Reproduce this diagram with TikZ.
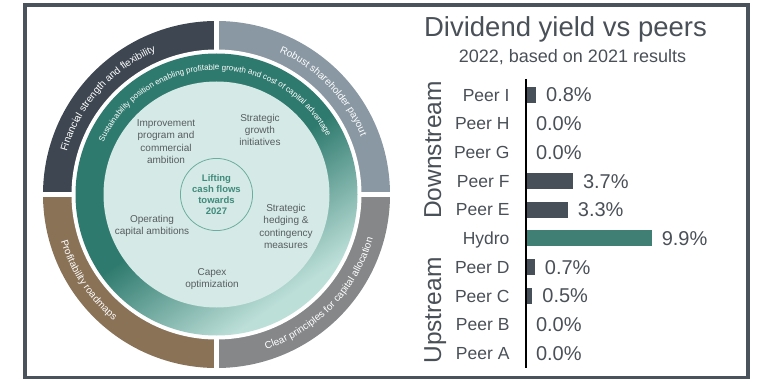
\documentclass[tikz,border=0pt]{standalone}
\usepackage{fontspec}
\setmainfont{Liberation Sans}
\usetikzlibrary{decorations.text}

\definecolor{framecol}{HTML}{4A525B}
\definecolor{quarterdark}{HTML}{3E4751}
\definecolor{quarterslate}{HTML}{8A98A3}
\definecolor{quarterbrown}{HTML}{8A7257}
\definecolor{quartergray}{HTML}{858789}
\definecolor{ringdark}{HTML}{2F7A6E}
\definecolor{ringlight}{HTML}{BCDFD8}
\definecolor{discfill}{HTML}{D5EAE6}
\definecolor{hubline}{HTML}{6AAE9F}
\definecolor{hubtext}{HTML}{3F8A7C}
\definecolor{innertext}{HTML}{575C60}
\definecolor{charttext}{HTML}{4A5058}
\definecolor{bardark}{HTML}{474F59}
\definecolor{barhydro}{HTML}{407F74}

\pgfdeclareverticalshading{ringshade}{100bp}{color(0bp)=(ringlight); color(28bp)=(ringlight); color(50bp)=(ringdark); color(100bp)=(ringdark)}

\begin{document}
\begin{tikzpicture}[x=1pt,y=1pt,
  outertext/.style={decorate,decoration={text along path,text align=center,
                    text color=white,text={|\fontsize{10}{12}\selectfont|#1}}},
  ringtext/.style={decorate,decoration={text along path,text align=center,
                   text color=white,text={|\fontsize{8}{10}\selectfont|#1}}},
  inner/.style={align=center,text=innertext,font=\fontsize{10}{12.3}\selectfont},
  hub/.style={circle,draw=hubline,line width=0.8pt,fill=discfill,minimum size=71pt,
              align=center,text=hubtext,font=\bfseries\fontsize{9.5}{11}\selectfont},
  peer/.style={anchor=base east,text=charttext,font=\fontsize{17.5}{20}\selectfont},
  pct/.style={anchor=base west,text=charttext,font=\fontsize{20}{24}\selectfont},
  group/.style={rotate=90,anchor=base,text=charttext,font=\fontsize{24.5}{28}\selectfont}
]
\useasboundingbox (0,0) rectangle (761,378);
\draw[framecol,line width=4pt] (25,0) rectangle (747.5,373);

% wheel
\coordinate (ctr) at (216.5,183.5);
\fill[quarterdark]  (ctr) ++(90:173.5) arc[start angle=90,end angle=180,radius=173.5] -- (ctr) -- cycle;
\fill[quarterslate] (ctr) ++(0:173.5) arc[start angle=0,end angle=90,radius=173.5] -- (ctr) -- cycle;
\fill[quarterbrown] (ctr) ++(180:173.5) arc[start angle=180,end angle=270,radius=173.5] -- (ctr) -- cycle;
\fill[quartergray]  (ctr) ++(270:173.5) arc[start angle=270,end angle=360,radius=173.5] -- (ctr) -- cycle;
\draw[white,line width=5pt] ([xshift=-180pt]ctr) -- ([xshift=180pt]ctr);
\draw[white,line width=5pt] ([yshift=-180pt]ctr) -- ([yshift=180pt]ctr);
\fill[white] (ctr) circle[radius=145];
\shade[shading=ringshade,shading angle=35] (ctr) circle[radius=141];
\fill[discfill] (ctr) circle[radius=113];

\path[outertext={Financial strength and flexibility}]
  ([shift={(168.5:155.5)}]ctr) arc[start angle=168.5,end angle=108.5,radius=155.5];
\path[outertext={Robust shareholder payout}]
  ([shift={(74:155.5)}]ctr) arc[start angle=74,end angle=14,radius=155.5];
\path[outertext={Profitability roadmaps}]
  ([shift={(183.75:162.5)}]ctr) arc[start angle=183.75,end angle=243.75,radius=162.5];
\path[outertext={Clear principles for capital allocation}]
  ([shift={(-80:162.5)}]ctr) arc[start angle=-80,end angle=-8,radius=162.5];
\path[ringtext={Sustainability position enabling profitable growth and cost of capital advantage}]
  ([shift={(175:124.5)}]ctr) arc[start angle=175,end angle=8,radius=124.5];

\node[hub] (hub) at (ctr) {Lifting\\cash flows\\towards\\2027};
\node[inner] (improve) at (166,236.5) {Improvement\\program and\\commercial\\ambition};
\node[inner] (growth)  at (260,248) {Strategic\\growth\\initiatives};
\node[inner] (opcap)   at (152,152) {Operating\\capital ambitions};
\node[inner] (hedge)   at (286,151.5) {Strategic\\hedging \&\\contingency\\measures};
\node[inner] (capex)   at (212,99) {Capex\\optimization};

% dividend chart
\node[anchor=base,text=charttext,font=\fontsize{27.5}{32}\selectfont] (title) at (565.5,341) {Dividend yield vs peers};
\node[anchor=base,text=charttext,font=\fontsize{18}{21}\selectfont] (subtitle) at (572.5,315) {2022, based on 2021 results};
\node[group] (down) at (441,228) {Downstream};
\node[group] (up)   at (441,67.5) {Upstream};
\foreach \lab/\val/\col [count=\i from 0] in {Peer I/0.8/bardark,Peer H/0.0/bardark,
    Peer G/0.0/bardark,Peer F/3.7/bardark,Peer E/3.3/bardark,Hydro/9.9/barhydro,
    Peer D/0.7/bardark,Peer C/0.5/bardark,Peer B/0.0/bardark,Peer A/0.0/bardark}{
  \pgfmathsetmacro\ry{283-28.7*\i}
  \pgfmathsetmacro\bw{12.7*\val}
  \node[peer] (peer\i) at (513,\ry-6.2) {\lab};
  \fill[\col] (526,\ry-8) rectangle ++(\bw,16);
  \node[pct] (pct\i) at (526+\bw+6.5,\ry-7) {\val\%};
}
\coordinate (axtop) at (526,299);
\coordinate (axbot) at (526,10);
\draw[black,line width=1.3pt] (axtop) -- (axbot);
\end{tikzpicture}
\end{document}
